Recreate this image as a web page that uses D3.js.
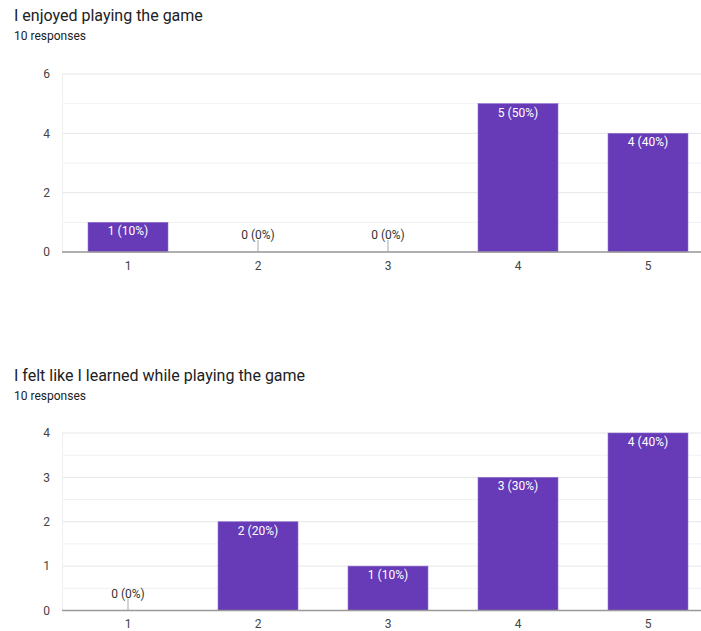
<!DOCTYPE html>
<html><head><meta charset="utf-8">
<script src="https://cdn.jsdelivr.net/npm/d3@7"></script>
<style>
body{margin:0;background:#fff;}
svg{display:block;font-family:Roboto, "Noto Sans", Arial, sans-serif;}
</style></head>
<body>
<svg id="chart" width="701" height="631"></svg>
<script>
const categories = ["1","2","3","4","5"];
const enjoyedValues = [1,0,0,5,4];
const learnedValues = [0,2,1,3,4];
const enjoyedTicks = [0,2,4,6];
const enjoyedGrid = [0,1,2,3,4,5,6];
const learnedTicks = [0,1,2,3,4];
const learnedGrid = [0,0.5,1,1.5,2,2.5,3,3.5,4];
const totalResponses = 10;
const titles = ["I enjoyed playing the game","I felt like I learned while playing the game"];
const subtitle = "10 responses";

const svg = d3.select("#chart");
const purple = "#673ab7";

function drawChart(cfg){
  const g = svg.append("g");
  g.append("text").attr("x",14).attr("y",cfg.titleY).attr("font-size",16).attr("fill","#202124").text(cfg.title);
  g.append("text").attr("x",14).attr("y",cfg.titleY+19).attr("font-size",12).attr("fill","#202124").text(subtitle);

  const x = d3.scaleBand().domain(categories).range([63,713]).paddingInner(0.385).paddingOuter(0.1925);
  const y = d3.scaleLinear().domain([0,cfg.max]).range([cfg.bottom,cfg.top]);

  // gridlines
  g.selectAll(".grid").data(cfg.grid).enter().append("line")
    .attr("x1",62).attr("x2",701).attr("y1",d=>y(d)).attr("y2",d=>y(d))
    .attr("stroke",d=>cfg.ticks.includes(d)?"#e6e6e6":"#f1f1f1").attr("stroke-width",1);
  // faint left border
  g.append("line").attr("x1",62.5).attr("x2",62.5).attr("y1",cfg.top).attr("y2",cfg.bottom)
    .attr("stroke","#efefef").attr("stroke-width",1);

  // y axis
  const yAxis = d3.axisLeft(y).tickValues(cfg.ticks).tickSize(0).tickPadding(0).tickFormat(d3.format("d"));
  const ya = g.append("g").attr("transform","translate(50,0)").call(yAxis);
  ya.select(".domain").remove();
  ya.selectAll("text").attr("font-size",12).attr("fill","#444").attr("font-family","Roboto, sans-serif");

  // bars
  const vals = cfg.values;
  g.selectAll(".bar").data(categories).enter().append("rect")
    .attr("x",d=>x(d)).attr("width",x.bandwidth())
    .attr("y",(d,i)=>y(vals[i])).attr("height",(d,i)=>cfg.bottom-y(vals[i]))
    .attr("fill",purple).attr("stroke","#8c6cd0").attr("stroke-width",0.6);

  // labels
  categories.forEach((c,i)=>{
    const v = vals[i];
    const txt = v + " (" + Math.round(v/totalResponses*100) + "%)";
    const cx = x(c)+x.bandwidth()/2;
    if(v>0){
      g.append("text").attr("x",cx).attr("y",y(v)+13).attr("text-anchor","middle")
        .attr("font-size",12).attr("fill","#ffffff").text(txt);
    } else {
      g.append("line").attr("x1",cx).attr("x2",cx).attr("y1",cfg.bottom-12).attr("y2",cfg.bottom)
        .attr("stroke","#aaa").attr("stroke-width",1);
      g.append("text").attr("x",cx).attr("y",cfg.bottom-13).attr("text-anchor","middle")
        .attr("font-size",12).attr("fill","#333").text(txt);
    }
  });

  // baseline
  g.append("line").attr("x1",62).attr("x2",701).attr("y1",cfg.bottom).attr("y2",cfg.bottom)
    .attr("stroke","#999").attr("stroke-width",1.6);

  // x axis labels
  const xAxis = d3.axisBottom(x).tickSize(0).tickPadding(0);
  const xa = g.append("g").attr("transform","translate(0,"+(cfg.bottom+9)+")").call(xAxis);
  xa.select(".domain").remove();
  xa.selectAll("text").attr("font-size",12).attr("fill","#444").attr("font-family","Roboto, sans-serif");
}

drawChart({title:titles[0], titleY:21, values:enjoyedValues, max:6, ticks:enjoyedTicks, grid:enjoyedGrid, top:74, bottom:252});
drawChart({title:titles[1], titleY:381, values:learnedValues, max:4, ticks:learnedTicks, grid:learnedGrid, top:433, bottom:610.5});
</script>
</body></html>
